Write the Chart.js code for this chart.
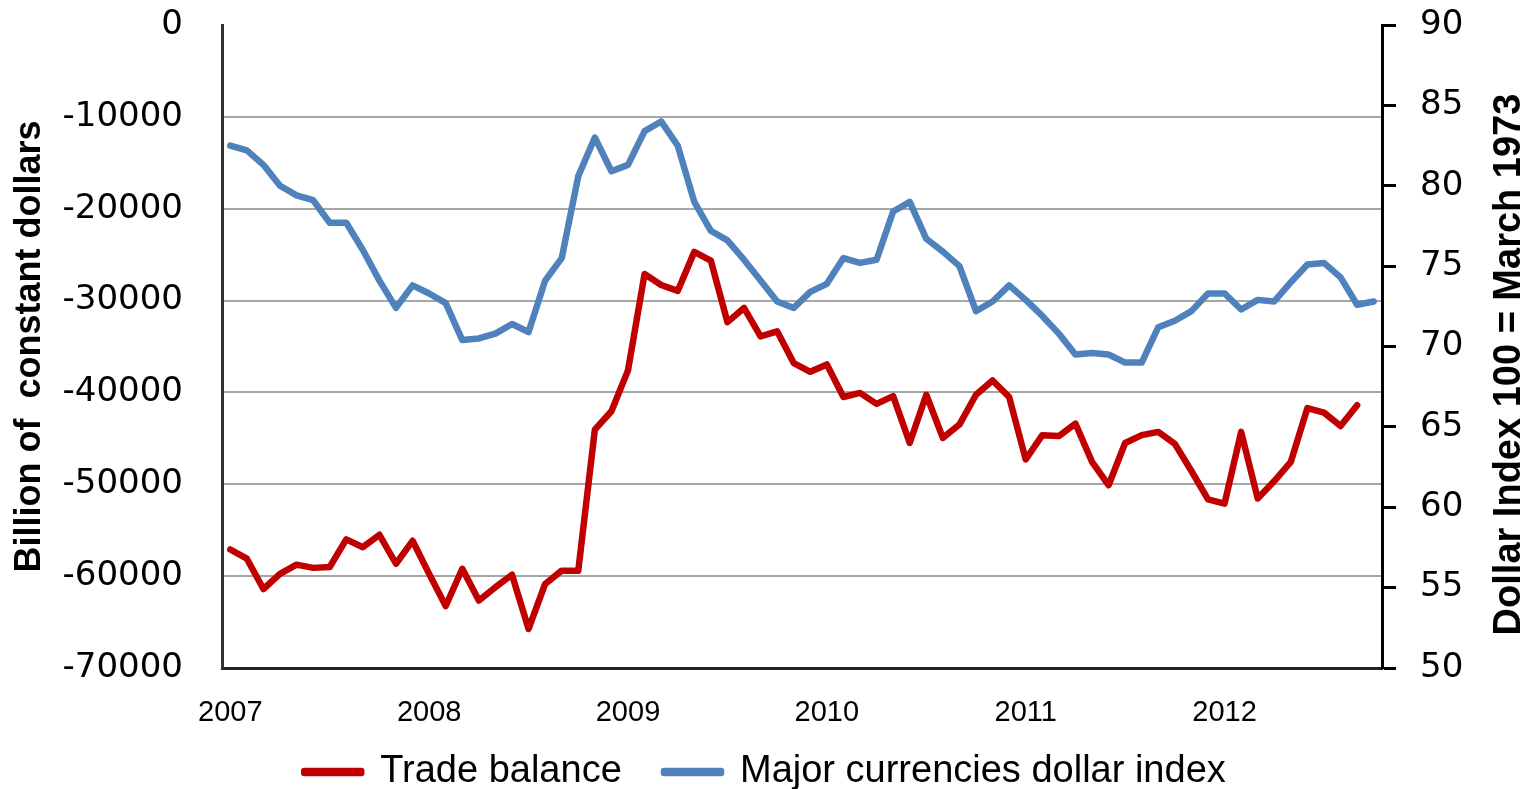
<!DOCTYPE html>
<html>
<head>
<meta charset="utf-8">
<script src="https://cdn.jsdelivr.net/npm/chart.js@4"></script>
<style>
  html, body { margin: 0; padding: 0; background: #fff; }
  #wrap { width: 1530px; height: 789px; }
</style>
</head>
<body>
<div id="wrap"><canvas id="tradeChart" width="1530" height="789"></canvas></div>
<script>
// years on the axis, one category per month (Jan 2007 .. Oct 2012)
const years = ["2007", "2008", "2009", "2010", "2011", "2012"];
const monthsInLastYear = 10;

const tradeBalance = [
  -57100, -58100, -61400, -59750, -58750, -59100, -59000, -56000, -56850, -55500, -58650, -56150,
  -59750, -63250, -59200, -62650, -61200, -59850, -65750, -60850, -59400, -59400, -44050, -42050,
  -37600, -27100, -28300, -28950, -24700, -25650, -32350, -30800, -33900, -33350, -36800, -37750,
  -36950, -40500, -40050, -41250, -40400, -45500, -40250, -44950, -43500, -40250, -38700, -40500,
  -47300, -44650, -44750, -43400, -47550, -50100, -45500, -44650, -44300, -45600, -48550, -51650,
  -52100, -44300, -51550, -49650, -47550, -41700, -42200, -43650, -41400, null
];

const dollarIndex = [
  82.5, 82.2, 81.3, 80.0, 79.4, 79.1, 77.7, 77.7, 76.0, 74.1, 72.4, 73.8,
  73.3, 72.7, 70.4, 70.5, 70.8, 71.4, 70.9, 74.1, 75.5, 80.6, 83.0, 80.9,
  81.3, 83.4, 84.0, 82.5, 79.0, 77.2, 76.6, 75.4, 74.1, 72.8, 72.4, 73.4,
  73.9, 75.5, 75.2, 75.4, 78.4, 79.0, 76.7, 75.9, 75.0, 72.2, 72.8, 73.8,
  72.9, 71.9, 70.8, 69.5, 69.6, 69.5, 69.0, 69.0, 71.2, 71.6, 72.2, 73.3,
  73.3, 72.3, 72.9, 72.8, 74.0, 75.1, 75.2, 74.3, 72.6, 72.8
];

const labels = [];
years.forEach((y, i) => {
  const n = i === years.length - 1 ? monthsInLastYear : 12;
  for (let m = 1; m <= n; m++) labels.push(y + "-" + String(m).padStart(2, "0"));
});

// right axis title reads bottom-to-top, so draw it here
const rightTitle = {
  id: "rightTitle",
  afterDraw(chart) {
    const ctx = chart.ctx;
    const a = chart.chartArea;
    ctx.save();
    ctx.translate(chart.width - 20, (a.top + a.bottom) / 2 + 18);
    ctx.rotate(-Math.PI / 2);
    ctx.font = "bold 38px 'Liberation Sans'";
    ctx.fillStyle = "#000";
    ctx.textAlign = "center";
    ctx.textBaseline = "middle";
    ctx.fillText("Dollar Index 100 = March 1973", 0, 0);
    ctx.restore();
  }
};

const tickFont = { family: "'DejaVu Sans'", size: 34, lineHeight: 0.01 };

const ctx = document.getElementById("tradeChart").getContext("2d");
new Chart(ctx, {
  type: "line",
  data: {
    labels: labels,
    datasets: [
      {
        label: "Trade balance",
        data: tradeBalance,
        yAxisID: "y",
        borderColor: "#C00000",
        backgroundColor: "#C00000",
        borderWidth: 6.5,
        pointRadius: 0,
        tension: 0,
        borderJoinStyle: "round",
        borderCapStyle: "round"
      },
      {
        label: "Major currencies dollar index",
        data: dollarIndex,
        yAxisID: "y1",
        borderColor: "#4F81BD",
        backgroundColor: "#4F81BD",
        borderWidth: 6.5,
        pointRadius: 0,
        tension: 0,
        borderJoinStyle: "round",
        borderCapStyle: "round"
      }
    ]
  },
  options: {
    responsive: false,
    animation: false,
    devicePixelRatio: 1,
    // legend sits a bit lower than Chart.js would put it
    layout: { padding: { top: 25, left: 0, right: 0, bottom: -12 } },
    plugins: {
      legend: {
        display: true,
        position: "bottom",
        labels: {
          boxWidth: 57,
          boxHeight: 2,
          padding: 0,
          color: "#000",
          font: { family: "'Liberation Sans'", size: 38 },
          generateLabels: chart => {
            const items = Chart.defaults.plugins.legend.labels.generateLabels(chart);
            // a little room after the first entry, as in the original
            items[0].text = items[0].text + "\u00a0\u00a0\u00a0\u00a0";
            return items;
          }
        }
      },
      tooltip: { enabled: false }
    },
    scales: {
      x: {
        offset: true,
        grid: { display: false, drawTicks: false },
        border: { display: true, color: "#222", width: 3 },
        ticks: {
          autoSkip: false,
          maxRotation: 0,
          padding: 28,
          color: "#000",
          font: { family: "'Liberation Sans'", size: 29 },
          callback: function (val, i) {
            const l = labels[i];
            return l.endsWith("-01") ? l.slice(0, 4) : "";
          }
        },
        afterFit: s => { s.height = 85; }
      },
      y: {
        position: "left",
        min: -70000,
        max: 0,
        grid: {
          drawTicks: true,
          tickLength: 35,
          tickColor: "rgba(0,0,0,0)",
          lineWidth: 2,
          color: c => (c.tick.value === 0 || c.tick.value === -70000) ? "rgba(0,0,0,0)" : "#A6A6A6"
        },
        border: { display: true, color: "#333", width: 3 },
        ticks: {
          stepSize: 10000,
          padding: 4,
          color: "#000",
          font: tickFont,
          callback: v => String(v)
        },
        title: {
          display: true,
          text: "Billion of  constant dollars",
          color: "#000",
          padding: { top: 8, bottom: 0 },
          font: { family: "'Liberation Sans'", size: 36, weight: "bold" }
        },
        afterFit: s => { s.width = 222; }
      },
      y1: {
        position: "right",
        min: 50,
        max: 90,
        grid: {
          drawOnChartArea: false,
          drawTicks: true,
          tickLength: 14,
          tickWidth: 3,
          tickColor: "#000"
        },
        border: { display: true, color: "#000", width: 3 },
        ticks: {
          stepSize: 5,
          padding: 24,
          color: "#000",
          font: tickFont
        },
        afterFit: s => { s.width = 148; }
      }
    }
  },
  plugins: [rightTitle]
});
</script>
</body>
</html>
